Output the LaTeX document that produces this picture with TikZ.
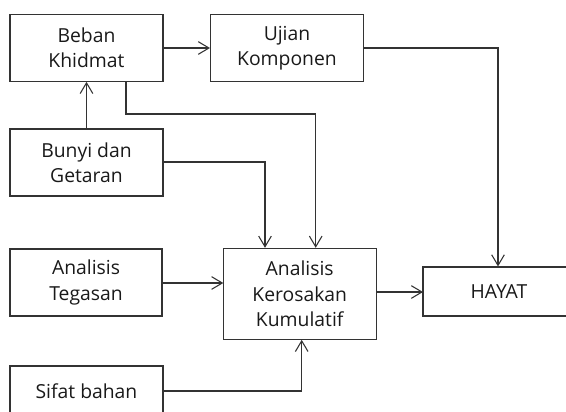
\documentclass[tikz,border=0pt]{standalone}
\usepackage{fontspec}
\setmainfont{Open Sans}
\usetikzlibrary{arrows.meta,calc}
\begin{document}
\begin{tikzpicture}[x=0.75pt,y=-0.75pt,
  every node/.style={font=\fontsize{14.5}{18.8}\selectfont, text=black!90},
  blk/.style={draw=black!80, line width=0.8pt, inner sep=0pt, align=center, minimum width=153*0.75pt},
  conn/.style={draw=black!80, line width=0.8pt, -{Straight Barb[length=8pt,width=9.5pt,line width=0.8pt]}}]
\useasboundingbox (0,0) rectangle (566,411);
\node[blk, minimum height=66.6*0.75pt] (beban) at (86.5,48) {Beban\\Khidmat};
\node[blk, minimum height=66.6*0.75pt] (ujian) at (287,48) {Ujian\\Komponen};
\node[blk, minimum height=67*0.75pt] (bunyi) at (86.5,162.5) {Bunyi dan\\Getaran};
\node[blk, minimum height=67*0.75pt, minimum width=152*0.75pt] (teg) at (86,282.5) {Analisis\\Tegasan};
\node[blk, minimum height=91*0.75pt] (akk) at (299.7,293.8) {Analisis\\Kerosakan\\Kumulatif};
\node[blk, minimum height=49*0.75pt, minimum width=152*0.75pt] (hayat) at (499,291.5) {HAYAT};
\node[blk, minimum height=50*0.75pt] (sifat) at (86.5,391) {Sifat bahan};
\coordinate (b1) at (126,81.3);
\coordinate (b2) at (126,114);
\coordinate (b3) at (315.7,114);
\coordinate (g1) at (265,162);
\coordinate (s1) at (301.7,391);
\coordinate (u1) at (498,48);
\coordinate (t1) at (162,283);
\coordinate (t2) at (223.3,283);
\coordinate (h1) at (376,292);
\coordinate (h2) at (423,292);
\draw[conn] (beban.east) -- (ujian.west);
\draw[conn] (bunyi.north) -- (beban.south);
\draw[conn] (b1) -- (b2) -- (b3) -- (b3 |- akk.north);
\draw[conn] (g1 -| bunyi.east) -- (g1) -- (g1 |- akk.north);
\draw[conn] (t1) -- (t2);
\draw[conn] (h1) -- (h2);
\draw[conn] (ujian.east) -- (u1) -- (u1 |- hayat.north);
\draw[conn] (sifat.east) -- (s1) -- (s1 |- akk.south);
\end{tikzpicture}
\end{document}
